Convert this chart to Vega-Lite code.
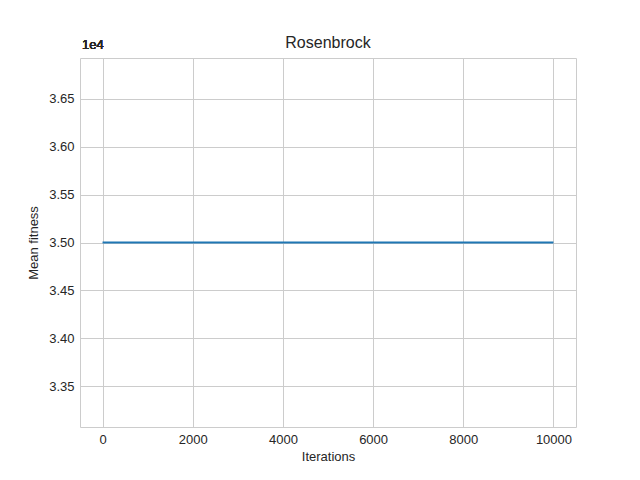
{
  "$schema": "https://vega.github.io/schema/vega-lite/v6.json",
  "width": 496,
  "height": 369,
  "autosize": "none",
  "padding": {"left": 80, "top": 58, "right": 64, "bottom": 53},
  "background": "white",
  "config": {
    "font": "Liberation Sans",
    "view": {"stroke": "#cccccc", "strokeWidth": 1},
    "axis": {
      "gridColor": "#cccccc", "gridWidth": 1, "domain": false, "ticks": false,
      "labelFontSize": 13, "titleFontSize": 13, "labelColor": "#262626", "titleColor": "#262626",
      "titleFontWeight": "normal", "labelPadding": 6
    },
    "title": {"fontSize": 16, "fontWeight": "normal", "color": "#262626", "offset": -12}
  },
  "title": "Rosenbrock",
  "data": {"values": [
    {"Iterations": 0, "fitness": 35000},
    {"Iterations": 2000, "fitness": 35000},
    {"Iterations": 4000, "fitness": 35000},
    {"Iterations": 6000, "fitness": 35000},
    {"Iterations": 8000, "fitness": 35000},
    {"Iterations": 10000, "fitness": 35000}
  ]},
  "layer": [
    {
      "mark": {"type": "line", "color": "#1f77b4", "strokeWidth": 2},
      "encoding": {
        "x": {"field": "Iterations", "type": "quantitative", "scale": {"domain": [-500, 10500], "nice": false, "zero": false},
          "axis": {"values": [0, 2000, 4000, 6000, 8000, 10000], "format": "d", "title": "Iterations", "titlePadding": 4}},
        "y": {"field": "fitness", "type": "quantitative", "scale": {"domain": [33075, 36925], "nice": false, "zero": false},
          "axis": {"values": [33500, 34000, 34500, 35000, 35500, 36000, 36500], "labelExpr": "format(datum.value/10000, '.2f')", "title": "Mean fitness", "titlePadding": 8}}
      }
    },
    {
      "mark": {"type": "text", "text": "1e4", "align": "left", "baseline": "bottom", "dy": -6, "dx": 2, "fontSize": 13, "fontWeight": "normal", "color": "#262626"},
      "encoding": {
        "x": {"datum": -500, "type": "quantitative"},
        "y": {"datum": 36925, "type": "quantitative"}
      }
    }
  ]
}
